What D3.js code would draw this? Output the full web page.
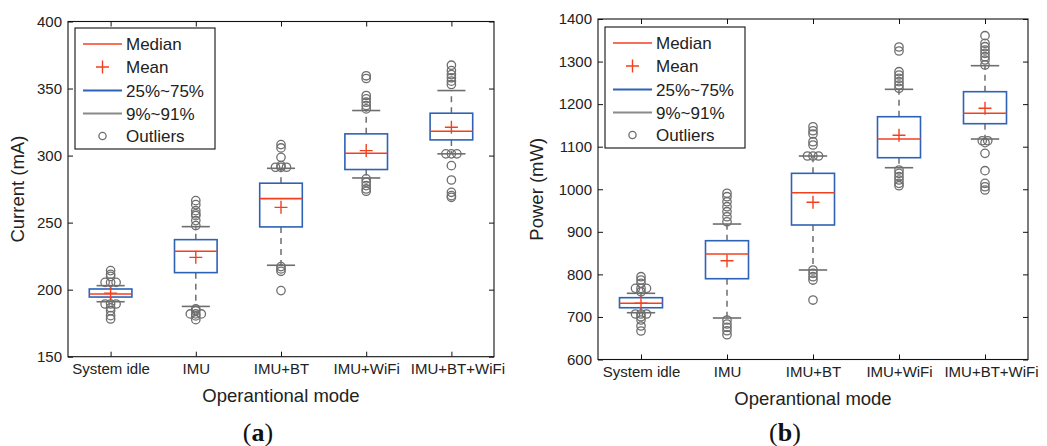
<!DOCTYPE html>
<html>
<head>
<meta charset="utf-8">
<script src="https://cdn.jsdelivr.net/npm/d3@7"></script>
<style>
  html, body { margin: 0; padding: 0; background: #fff; }
  svg { display: block; }
</style>
</head>
<body>
<svg id="chart" width="1047" height="446"></svg>
<script>
// Operational modes shared by both panels
const categories = ["System idle", "IMU", "IMU+BT", "IMU+WiFi", "IMU+BT+WiFi"];

// Panel (a): current draw, mA
const currentTicks = [150, 200, 250, 300, 350, 400];
const currentP9     = [191.0, 187.5, 218.2, 283.3, 301.3];
const currentQ1     = [194.5, 212.7, 246.8, 289.6, 311.7];
const currentMedian = [196.8, 228.6, 267.9, 301.7, 318.1];
const currentMean   = [197.4, 224.1, 261.4, 303.7, 321.1];
const currentQ3     = [200.5, 237.3, 279.4, 316.2, 331.6];
const currentP91    = [203.0, 247.0, 290.5, 333.6, 348.5];
// outliers per mode: [value, number of coincident points]
const currentOutliers = [
  [[214.2,1],[211.5,1],[209.9,1],[205.4,3],[189.3,3],[186.5,1],[184.3,1],[180.6,1],[178.1,1]],
  [[266.4,1],[263.4,1],[258.9,1],[256.5,1],[255.2,1],[251.5,1],[247.8,1],[185.6,1],[184.3,1],[181.9,3],[180.4,1],[177.6,1]],
  [[308.2,1],[305.7,1],[298.7,1],[292.5,1],[291.3,3],[217.2,1],[215.5,1],[213.7,1],[199.3,1]],
  [[359.5,1],[357.5,1],[344.8,1],[342.3,1],[339.8,1],[337.3,1],[334.8,1],[282.6,1],[280.1,1],[277.6,1],[275.1,1],[273.4,1]],
  [[367.4,1],[363.4,1],[360.4,1],[358.0,1],[355.5,1],[353.0,1],[301.3,3],[292.5,1],[281.8,1],[272.6,1],[270.1,1],[268.9,1]]
];

// Panel (b): power draw, mW
const powerTicks = [600, 700, 800, 900, 1000, 1100, 1200, 1300, 1400];
const powerP9     = [709.9, 697.5, 810.3, 1050.6, 1118.0];
const powerQ1     = [721.6, 789.8, 916.0, 1074.1, 1154.0];
const powerMedian = [732.0, 847.8, 991.9, 1118.2, 1178.4];
const powerMean   = [732.5, 832.1, 969.3, 1126.7, 1190.2];
const powerQ3     = [745.2, 879.1, 1037.4, 1170.4, 1229.2];
const powerP91    = [755.5, 918.3, 1078.1, 1234.8, 1290.3];
const powerOutliers = [
  [[794.5,1],[786.7,1],[779.0,1],[767.2,3],[759.3,1],[706.9,3],[700.5,1],[692.8,1],[678.7,1],[667.0,1]],
  [[990.5,1],[982.5,1],[970.7,1],[959.0,1],[947.2,1],[935.5,1],[923.7,1],[692.8,1],[683.4,1],[675.6,1],[667.6,1],[658.2,1]],
  [[1146.9,1],[1137.5,1],[1129.8,1],[1111.7,1],[1104.0,1],[1078.1,3],[810.3,1],[802.5,1],[794.5,1],[786.7,1],[739.7,1]],
  [[1334.2,1],[1324.8,1],[1276.2,1],[1268.4,1],[1260.7,1],[1252.7,1],[1244.9,1],[1237.2,1],[1045.2,1],[1037.4,1],[1029.5,1],[1021.7,1],[1013.9,1],[1008.3,1]],
  [[1360.8,1],[1342.9,1],[1334.9,1],[1327.2,1],[1319.4,1],[1311.4,1],[1303.7,1],[1292.0,1],[1114.0,2],[1109.4,1],[1084.4,1],[1043.6,1],[1013.9,1],[1005.9,1],[998.2,1]]
];

const legendLabels = ["Median", "Mean", "25%~75%", "9%~91%", "Outliers"];

const RED = "#f2401f";
const BLUE = "#2d62b6";
const GRAY = "#6e6e6e";
const SANS = "'Liberation Sans', Arial, sans-serif";
const SERIF = "'Liberation Serif', 'DejaVu Serif', serif";

const svg = d3.select("#chart");
svg.append("rect").attr("width", 1047).attr("height", 446).attr("fill", "#fff");

function drawPanel(cfg) {
  const { left, right, top, bottom, domain, ticks, yTitle, yTitleX, caption, captionX,
          p9, q1, med, mean, q3, p91, outliers, legendX, legendY } = cfg;

  const x = d3.scaleLinear().domain([0.5, categories.length + 0.5]).range([left, right]);
  const y = d3.scaleLinear().domain(domain).range([bottom, top]);
  const unit = x(2) - x(1);
  const g = svg.append("g");

  // frame
  g.append("rect")
    .attr("x", left).attr("y", top)
    .attr("width", right - left).attr("height", bottom - top)
    .attr("fill", "none").attr("stroke", "#111").attr("stroke-width", 1.1);

  const idx = d3.range(1, categories.length + 1);

  // axes with inward ticks on all four sides
  const yAxis = g.append("g").attr("transform", `translate(${left},0)`)
    .call(d3.axisLeft(y).tickValues(ticks).tickSizeInner(-5).tickSizeOuter(0).tickPadding(6)
      .tickFormat(d3.format("d")));
  const yAxisR = g.append("g").attr("transform", `translate(${right},0)`)
    .call(d3.axisRight(y).tickValues(ticks).tickSizeInner(-5).tickSizeOuter(0).tickFormat(""));
  const xAxis = g.append("g").attr("transform", `translate(0,${bottom})`)
    .call(d3.axisBottom(x).tickValues(idx).tickSizeInner(-5).tickSizeOuter(0).tickPadding(7)
      .tickFormat(i => categories[i - 1]));
  const xAxisT = g.append("g").attr("transform", `translate(0,${top})`)
    .call(d3.axisTop(x).tickValues(idx).tickSizeInner(-5).tickSizeOuter(0).tickFormat(""));

  [yAxis, yAxisR, xAxis, xAxisT].forEach(a => {
    a.select(".domain").remove();
    a.selectAll(".tick line").attr("stroke", "#111").attr("stroke-width", 1);
    a.selectAll("text").attr("font-size", 15).attr("fill", "#222")
      .attr("font-family", SANS);
  });
  // the long last category label sits a little right of its tick
  xAxis.selectAll(".tick text").filter(i => i === categories.length).attr("dx", 6);

  // axis titles
  g.append("text")
    .attr("x", (left + right) / 2).attr("y", bottom + 45)
    .attr("text-anchor", "middle").attr("font-size", 18.5)
    .attr("font-family", SANS).attr("fill", "#222")
    .text("Operantional mode");
  g.append("text")
    .attr("transform", `translate(${yTitleX},${(top + bottom) / 2}) rotate(-90)`)
    .attr("text-anchor", "middle").attr("font-size", 18.5)
    .attr("font-family", SANS).attr("fill", "#222")
    .text(yTitle);

  // caption
  const cap = g.append("text")
    .attr("x", captionX).attr("y", 441)
    .attr("text-anchor", "middle").attr("font-size", 26)
    .attr("font-family", SERIF).attr("fill", "#111");
  cap.append("tspan").text("(");
  cap.append("tspan").attr("font-weight", "bold").text(caption);
  cap.append("tspan").text(")");

  const boxHalf = unit * 0.25;
  const capHalf = unit * 0.165;

  idx.forEach((c, k) => {
    const cx = x(c);
    const bg = g.append("g");

    // dashed whiskers
    bg.append("line").attr("x1", cx).attr("x2", cx)
      .attr("y1", y(q3[k])).attr("y2", y(p91[k]))
      .attr("stroke", GRAY).attr("stroke-width", 1.5).attr("stroke-dasharray", "6,5");
    bg.append("line").attr("x1", cx).attr("x2", cx)
      .attr("y1", y(q1[k])).attr("y2", y(p9[k]))
      .attr("stroke", GRAY).attr("stroke-width", 1.5).attr("stroke-dasharray", "6,5");

    // whisker caps
    [p9[k], p91[k]].forEach(v => {
      bg.append("line").attr("x1", cx - capHalf).attr("x2", cx + capHalf)
        .attr("y1", y(v)).attr("y2", y(v))
        .attr("stroke", GRAY).attr("stroke-width", 1.6);
    });

    // outliers
    outliers[k].forEach(([v, n]) => {
      for (let j = 0; j < n; j++) {
        bg.append("circle")
          .attr("cx", cx + (j - (n - 1) / 2) * 5.5).attr("cy", y(v)).attr("r", 4.2)
          .attr("fill", "none").attr("stroke", GRAY).attr("stroke-width", 1.3);
      }
    });

    // interquartile box
    bg.append("rect")
      .attr("x", cx - boxHalf).attr("y", y(q3[k]))
      .attr("width", boxHalf * 2).attr("height", y(q1[k]) - y(q3[k]))
      .attr("fill", "none").attr("stroke", BLUE).attr("stroke-width", 1.6);

    // median
    bg.append("line").attr("x1", cx - boxHalf).attr("x2", cx + boxHalf)
      .attr("y1", y(med[k])).attr("y2", y(med[k]))
      .attr("stroke", RED).attr("stroke-width", 1.6);

    // mean marker
    const my = y(mean[k]);
    bg.append("path")
      .attr("d", `M${cx - 6.5},${my}H${cx + 6.5}M${cx},${my - 6.5}V${my + 6.5}`)
      .attr("stroke", RED).attr("stroke-width", 1.4).attr("fill", "none");
  });

  // legend
  const lg = g.append("g").attr("transform", `translate(${legendX},${legendY})`);
  lg.append("rect").attr("width", 140).attr("height", 121)
    .attr("fill", "#fff").attr("stroke", "#111").attr("stroke-width", 1.1);
  const rowY = [16, 39, 62.5, 85.5, 108];
  const sx0 = 8, sx1 = 47, smid = (sx0 + sx1) / 2;
  legendLabels.forEach((lab, i) => {
    const ry = rowY[i];
    if (i === 0) {
      lg.append("line").attr("x1", sx0).attr("x2", sx1).attr("y1", ry).attr("y2", ry)
        .attr("stroke", RED).attr("stroke-width", 1.5);
    } else if (i === 1) {
      lg.append("path").attr("d", `M${smid - 6.5},${ry}H${smid + 6.5}M${smid},${ry - 6.5}V${ry + 6.5}`)
        .attr("stroke", RED).attr("stroke-width", 1.4);
    } else if (i === 2) {
      lg.append("line").attr("x1", sx0).attr("x2", sx1).attr("y1", ry).attr("y2", ry)
        .attr("stroke", BLUE).attr("stroke-width", 2.2);
    } else if (i === 3) {
      lg.append("line").attr("x1", sx0).attr("x2", sx1).attr("y1", ry).attr("y2", ry)
        .attr("stroke", "#8a8a8a").attr("stroke-width", 2);
    } else {
      lg.append("circle").attr("cx", smid).attr("cy", ry).attr("r", 3.6)
        .attr("fill", "none").attr("stroke", GRAY).attr("stroke-width", 1.3);
    }
    lg.append("text").attr("x", 51).attr("y", ry + 6).attr("font-size", 17)
      .attr("font-family", SANS).attr("fill", "#222").text(lab);
  });
}

drawPanel({
  left: 68, right: 494, top: 21.5, bottom: 356.7,
  domain: [150, 400], ticks: currentTicks,
  yTitle: "Current (mA)", yTitleX: 24, caption: "a", captionX: 258,
  p9: currentP9, q1: currentQ1, med: currentMedian, mean: currentMean,
  q3: currentQ3, p91: currentP91, outliers: currentOutliers,
  legendX: 75, legendY: 28
});

drawPanel({
  left: 598, right: 1028, top: 19, bottom: 359.5,
  domain: [600, 1400], ticks: powerTicks,
  yTitle: "Power (mW)", yTitleX: 543, caption: "b", captionX: 785,
  p9: powerP9, q1: powerQ1, med: powerMedian, mean: powerMean,
  q3: powerQ3, p91: powerP91, outliers: powerOutliers,
  legendX: 605, legendY: 27
});
</script>
</body>
</html>
